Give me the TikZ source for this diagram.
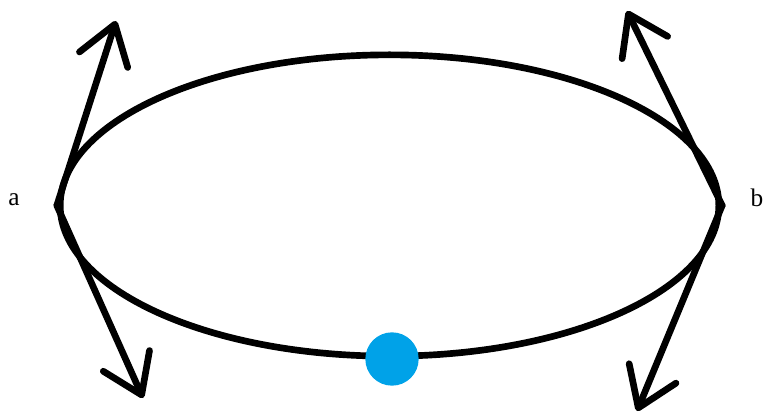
\documentclass[tikz,border=0pt]{standalone}
\usepackage{fontspec}
\setmainfont{Liberation Serif}
\usetikzlibrary{shapes.geometric, arrows.meta}
\definecolor{dotblue}{HTML}{00A2E8}
\pgfdeclarelayer{edgelayer}
\pgfdeclarelayer{nodelayer}
\pgfsetlayers{edgelayer,main,nodelayer}
\tikzstyle{orbit}=[ellipse, draw=black, line width=5pt, minimum width=494pt, minimum height=226pt, inner sep=0pt]
\tikzstyle{arrowedge}=[draw=black, line width=5pt, line cap=round, line join=round, -{Straight Barb[length=28pt, width=38pt, round]}]
\tikzstyle{bead}=[circle, fill=dotblue, minimum size=40pt, inner sep=0pt]
\tikzstyle{endlabel}=[inner sep=0pt, font=\fontsize{19}{21}\selectfont]

\begin{document}
\begin{tikzpicture}[x=0.75pt, y=-0.75pt]
						\useasboundingbox (0, 0) rectangle (766, 420);
						\begin{pgfonlayer}{edgelayer}
							\node [style=orbit] (loop) at (389.5, 205.5) {};
						\end{pgfonlayer}
						\coordinate (a) at (loop.west);
						\coordinate (b) at (loop.east);
						\coordinate (ta1) at (116, 21);
						\coordinate (ta2) at (143, 398);
						\coordinate (tb1) at (627, 11);
						\coordinate (tb2) at (637, 411);
						\draw [style=arrowedge] (a) to (ta1);
						\draw [style=arrowedge] (a) to (ta2);
						\draw [style=arrowedge] (b) to (tb1);
						\draw [style=arrowedge] (b) to (tb2);
						\begin{pgfonlayer}{nodelayer}
							\node [style=bead] (dot) at (392, 359) {};
							\node [style=endlabel] (la) at (14, 200) {a};
							\node [style=endlabel] (lb) at (757, 198) {b};
						\end{pgfonlayer}
					\end{tikzpicture}
\end{document}
